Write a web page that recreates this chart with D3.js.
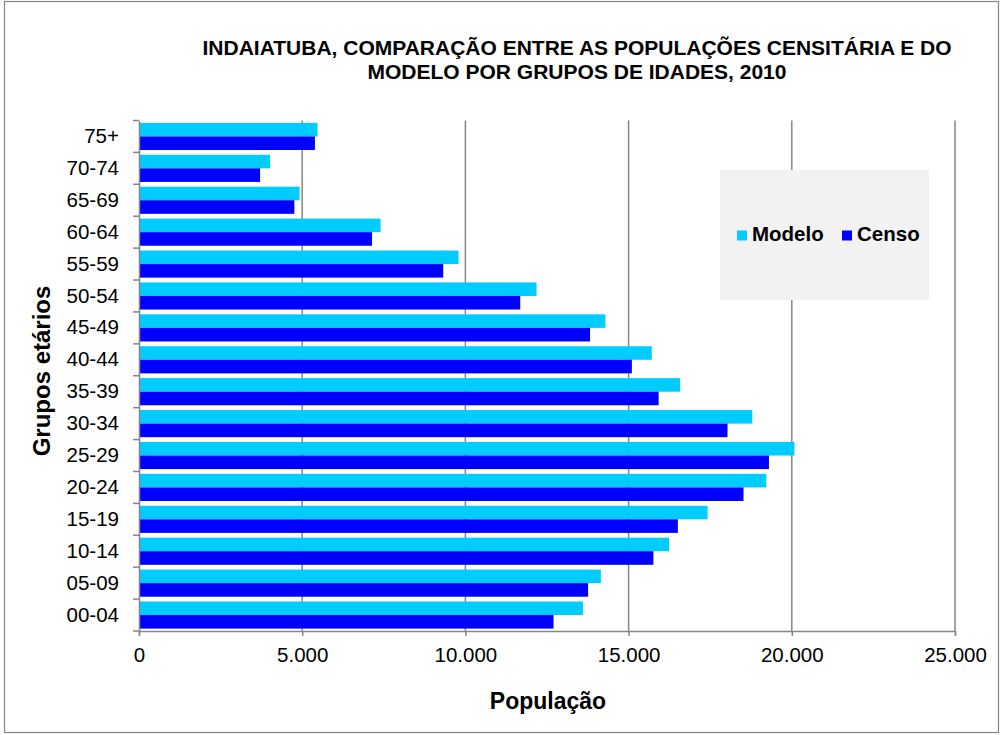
<!DOCTYPE html>
<html>
<head>
<meta charset="utf-8">
<script src="https://cdn.jsdelivr.net/npm/d3@7"></script>
<style>
  body { margin: 0; background: #fff; }
  text { font-family: "Liberation Sans", Arial, sans-serif; }
</style>
</head>
<body>
<div id="chart"></div>
<script>
// age groups, top to bottom as drawn
const groups = ['75+', '70-74', '65-69', '60-64', '55-59', '50-54', '45-49', '40-44',
                '35-39', '30-34', '25-29', '20-24', '15-19', '10-14', '05-09', '00-04'];
const modelo = [5470, 4020, 4920, 7400, 9790, 12180, 14290, 15710,
                16580, 18790, 20080, 19220, 17420, 16240, 14150, 13600];
const censo  = [5390, 3710, 4760, 7140, 9320, 11680, 13820, 15100,
                15920, 18030, 19300, 18520, 16510, 15760, 13760, 12700];
const xTicks = [0, 5000, 10000, 15000, 20000, 25000];
const seriesNames = ['Modelo', 'Censo'];
const colors = { Modelo: '#00CCFF', Censo: '#0000FF' };

const W = 1002, H = 735;
const m = { left: 139, right: 47, top: 120.5, bottom: 104 };

const svg = d3.select('#chart').append('svg')
    .attr('width', W)
    .attr('height', H);

// outer frame
svg.append('rect')
    .attr('x', 4.5).attr('y', 1.5)
    .attr('width', 994).attr('height', 731)
    .attr('fill', '#fff')
    .attr('stroke', '#868686')
    .attr('stroke-width', 1.2);

const x = d3.scaleLinear().domain([0, 25000]).range([m.left, W - m.right]);
const y = d3.scaleBand().domain(groups).range([m.top, H - m.bottom]).paddingInner(0.15).paddingOuter(0.075);
const ySub = d3.scaleBand().domain(seriesNames).range([0, y.bandwidth()]);

// gridlines
svg.append('g')
    .selectAll('line')
    .data(xTicks.slice(1))
    .join('line')
    .attr('x1', d => x(d)).attr('x2', d => x(d))
    .attr('y1', m.top).attr('y2', H - m.bottom)
    .attr('stroke', '#868686')
    .attr('stroke-width', 1.5);

// bars
const rows = groups.map((g, i) => ({ g, Modelo: modelo[i], Censo: censo[i] }));
const rowG = svg.append('g')
    .selectAll('g')
    .data(rows)
    .join('g')
    .attr('transform', d => `translate(0,${y(d.g)})`);

rowG.selectAll('rect')
    .data(d => seriesNames.map(s => ({ s, v: d[s] })))
    .join('rect')
    .attr('x', x(0))
    .attr('y', d => ySub(d.s))
    .attr('width', d => x(d.v) - x(0))
    .attr('height', ySub.bandwidth())
    .attr('fill', d => colors[d.s]);

// x axis
const xAxis = svg.append('g')
    .attr('transform', `translate(0,${H - m.bottom})`)
    .call(d3.axisBottom(x).tickValues(xTicks).tickSize(5)
        .tickFormat(d => d3.format(',')(d).replace(/,/g, '.')));
xAxis.select('.domain').attr('stroke', '#868686').attr('stroke-width', 1.5);
xAxis.selectAll('.tick line').attr('stroke', '#868686').attr('stroke-width', 1.5);
xAxis.selectAll('.tick text')
    .attr('font-size', 20.5)
    .attr('fill', '#000')
    .attr('y', 31)
    .attr('dy', 0);

// y axis with ticks at band boundaries
const yAxis = svg.append('g')
    .attr('transform', `translate(${m.left},0)`)
    .call(d3.axisLeft(y).tickSize(0).tickPadding(20));
yAxis.select('.domain').attr('stroke', '#868686').attr('stroke-width', 1.5);
yAxis.selectAll('.tick text')
    .attr('font-size', 20.5)
    .attr('fill', '#000');

const step = (H - m.bottom - m.top) / groups.length;
svg.append('g')
    .selectAll('line')
    .data(d3.range(groups.length + 1))
    .join('line')
    .attr('x1', m.left - 6).attr('x2', m.left)
    .attr('y1', i => m.top + i * step).attr('y2', i => m.top + i * step)
    .attr('stroke', '#868686')
    .attr('stroke-width', 1.5);

// titles
const title = svg.append('text')
    .attr('text-anchor', 'middle')
    .attr('font-size', 21)
    .attr('font-weight', 'bold');
title.append('tspan').attr('x', 577).attr('y', 55).text('INDAIATUBA, COMPARAÇÃO ENTRE AS POPULAÇÕES CENSITÁRIA E DO');
title.append('tspan').attr('x', 577).attr('y', 79).text('MODELO POR GRUPOS DE IDADES, 2010');

svg.append('text')
    .attr('x', 548).attr('y', 709)
    .attr('text-anchor', 'middle')
    .attr('font-size', 23)
    .attr('font-weight', 'bold')
    .text('População');

svg.append('text')
    .attr('transform', 'translate(50,371) rotate(-90)')
    .attr('text-anchor', 'middle')
    .attr('font-size', 24)
    .attr('font-weight', 'bold')
    .text('Grupos etários');

// legend
const lg = svg.append('g').attr('transform', 'translate(720,170)');
lg.append('rect')
    .attr('width', 209).attr('height', 130)
    .attr('fill', '#F2F2F2');
const items = [{ s: 'Modelo', x: 17 }, { s: 'Censo', x: 122 }];
items.forEach(it => {
    lg.append('rect')
        .attr('x', it.x).attr('y', 60.5)
        .attr('width', 10).attr('height', 10)
        .attr('fill', colors[it.s]);
    lg.append('text')
        .attr('x', it.x + 15).attr('y', 71)
        .attr('font-size', 20.5)
        .attr('font-weight', 'bold')
        .text(it.s);
});
</script>
</body>
</html>
